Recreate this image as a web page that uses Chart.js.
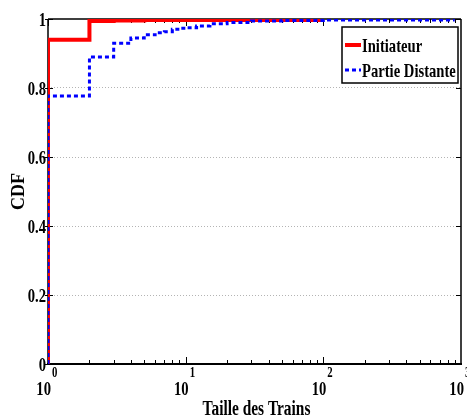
<!DOCTYPE html>
<html>
<head>
<meta charset="utf-8">
<script src="https://cdn.jsdelivr.net/npm/chart.js@4/dist/chart.umd.min.js"></script>
<style>
html,body{margin:0;padding:0;background:#fff;}
canvas{display:block;}
</style>
</head>
<body>
<canvas id="c" width="467" height="419"></canvas>
<script>
// ---- data ----
const seriesLabels = ["Initiateur", "Partie Distante"];
const initX = [1, 1, 2, 3, 5, 10, 30, 100];
const initY = [0, 0.94, 0.994, 0.996, 0.997, 0.997, 0.997, 0.997];
const distX = [1, 1, 2, 3, 4, 5, 6, 7, 8, 9, 10, 12, 15, 20, 30, 50, 100, 900];
const distY = [0, 0.777, 0.89, 0.93, 0.945, 0.954, 0.96, 0.963, 0.97, 0.973, 0.975, 0.98, 0.986, 0.99, 0.994, 0.996, 0.997, 0.997];
const xTickExponents = [0, 1, 2, 3];
const yTickValues = [0, 0.2, 0.4, 0.6, 0.8, 1];
const xTitle = "Taille des Trains";
const yTitle = "CDF";

const SERIF = '"Liberation Serif", "Times New Roman", serif';
const SX = 0.77;

function txt(ctx, s, x, y, size, align, baseline, sx) {
  ctx.save();
  ctx.font = 'bold ' + size + 'px ' + SERIF;
  ctx.fillStyle = '#000';
  ctx.textAlign = align;
  ctx.textBaseline = baseline;
  ctx.translate(x, y);
  ctx.scale(sx, 1);
  ctx.fillText(s, 0, 0);
  ctx.restore();
}

const decor = {
  id: 'decor',
  beforeDatasetsDraw(chart) {
    const ctx = chart.ctx, a = chart.chartArea;
    const xs = chart.scales.x, ys = chart.scales.y;
    ctx.save();
    ctx.strokeStyle = '#000';
    ctx.lineWidth = 1.5;
    ctx.beginPath();
    ctx.moveTo(a.left, a.top); ctx.lineTo(a.right, a.top);
    ctx.moveTo(a.right, a.top); ctx.lineTo(a.right, a.bottom);
    ctx.moveTo(a.left, a.top); ctx.lineTo(a.left, a.bottom);
    ctx.stroke();
    ctx.lineWidth = 2;
    ctx.beginPath();
    ctx.moveTo(a.left - 1, a.bottom); ctx.lineTo(a.right + 1, a.bottom);
    ctx.stroke();
    ctx.lineWidth = 1;
    for (let d = 0; d < 3; d++) {
      for (let k = 1; k <= 9; k++) {
        const v = k * Math.pow(10, d);
        const px = Math.round(xs.getPixelForValue(v)) + 0.5;
        const len = k === 1 ? 7 : 4;
        ctx.beginPath();
        ctx.moveTo(px, a.bottom); ctx.lineTo(px, a.bottom - len);
        ctx.moveTo(px, a.top); ctx.lineTo(px, a.top + len);
        ctx.stroke();
      }
    }
    yTickValues.forEach(v => {
      const py = Math.round(ys.getPixelForValue(v)) + 0.5;
      ctx.beginPath();
      ctx.moveTo(a.left - 3, py); ctx.lineTo(a.left + 5, py);
      ctx.moveTo(a.right, py); ctx.lineTo(a.right - 5, py);
      ctx.stroke();
    });
    ctx.restore();
  },
  afterDraw(chart) {
    const ctx = chart.ctx, a = chart.chartArea;
    const xs = chart.scales.x, ys = chart.scales.y;
    yTickValues.forEach(v => {
      const py = ys.getPixelForValue(v);
      txt(ctx, String(v), a.left - 2, py + 2, 19, 'right', 'middle', SX);
    });
    xTickExponents.forEach(e => {
      const px = xs.getPixelForValue(Math.pow(10, e));
      txt(ctx, '10', px + 3, a.bottom + 31, 19, 'right', 'alphabetic', SX);
      txt(ctx, String(e), px + 4, a.bottom + 13, 14, 'left', 'alphabetic', SX);
    });
    txt(ctx, xTitle, (a.left + a.right) / 2 + 2, 415, 20, 'center', 'alphabetic', SX);
    ctx.save();
    ctx.translate(24, (a.top + a.bottom) / 2);
    ctx.rotate(-Math.PI / 2);
    txt(ctx, yTitle, 0, 0, 18, 'center', 'alphabetic', 1);
    ctx.restore();
    const bx = 342, by = 27, bw = 116, bh = 56;
    ctx.save();
    ctx.fillStyle = '#fff';
    ctx.fillRect(bx, by, bw, bh);
    ctx.strokeStyle = '#000';
    ctx.lineWidth = 1.5;
    ctx.strokeRect(bx, by, bw, bh);
    const rows = [45, 70];
    chart.data.datasets.slice().sort((p, q) => seriesLabels.indexOf(p.label) - seriesLabels.indexOf(q.label)).forEach((ds, i) => {
      const y = rows[i];
      ctx.save();
      ctx.strokeStyle = ds.borderColor;
      ctx.lineWidth = ds.borderWidth;
      ctx.setLineDash(ds.borderDash || []);
      ctx.beginPath();
      ctx.moveTo(345, y); ctx.lineTo(361, y);
      ctx.stroke();
      ctx.restore();
      txt(ctx, ds.label, 362, y + 7, 19, 'left', 'alphabetic', SX);
    });
    ctx.restore();
  }
};

const toPts = (xs, ys) => xs.map((x, i) => ({x: x, y: ys[i]}));

new Chart(document.getElementById('c'), {
  type: 'line',
  data: {
    datasets: [
      {
        label: seriesLabels[0],
        data: toPts(initX, initY),
        borderColor: '#ff0000',
        borderWidth: 4,
        stepped: 'before',
        pointRadius: 0,
        fill: false,
        order: 1
      },
      {
        label: seriesLabels[1],
        data: toPts(distX, distY),
        borderColor: '#0000ff',
        borderWidth: 3,
        borderDash: [4, 3],
        stepped: 'before',
        pointRadius: 0,
        fill: false,
        order: 0
      }
    ]
  },
  options: {
    responsive: false,
    devicePixelRatio: 1,
    animation: false,
    layout: { padding: { top: 19, right: 6, left: 0, bottom: 0 } },
    plugins: { legend: { display: false }, tooltip: { enabled: false } },
    scales: {
      x: {
        type: 'logarithmic',
        min: 1, max: 1000,
        ticks: { display: false },
        grid: { display: false },
        border: { display: false },
        afterFit: s => { s.height = 55; }
      },
      y: {
        type: 'linear',
        min: 0, max: 1,
        ticks: { display: false, stepSize: 0.2 },
        grid: {
          drawTicks: false,
          lineWidth: 1,
          color: c => (c.tick && c.tick.value > 0.01 && c.tick.value < 0.99) ? '#b4b4b4' : 'rgba(0,0,0,0)'
        },
        border: { display: false, dash: [1, 2] },
        afterFit: s => { s.width = 48; }
      }
    }
  },
  plugins: [decor]
});
</script>
</body>
</html>
